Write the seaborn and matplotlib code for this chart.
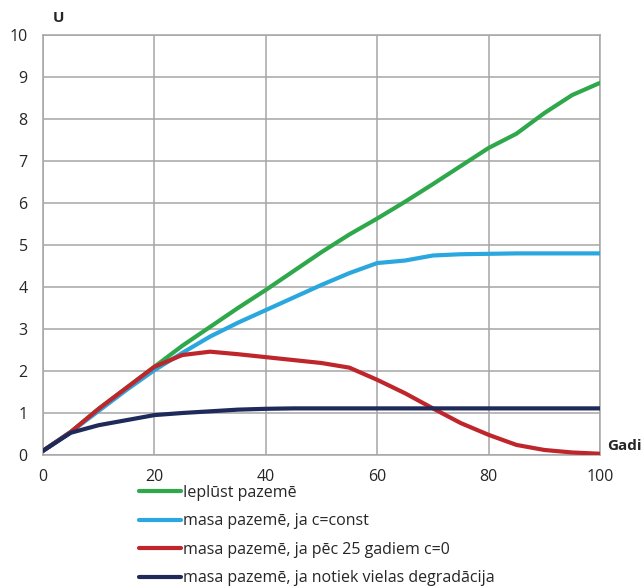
import pandas as pd
import numpy as np
import matplotlib.pyplot as plt
import seaborn as sns

sns.set_style("white")
plt.rcParams['font.family'] = ['Open Sans', 'DejaVu Sans']

# data
years = [0, 5, 10, 15, 20, 25, 30, 35, 40, 45, 50, 55, 60, 65, 70, 75, 80, 85, 90, 95, 100]
inflow = [0.1, 0.55, 1.1, 1.6, 2.1, 2.6, 3.05, 3.5, 3.93, 4.38, 4.83, 5.25, 5.63, 6.03, 6.45, 6.88, 7.31, 7.65, 8.14, 8.57, 8.86]
mass_const = [0.1, 0.55, 1.05, 1.55, 2.02, 2.43, 2.82, 3.15, 3.45, 3.75, 4.05, 4.33, 4.57, 4.63, 4.75, 4.78, 4.79, 4.8, 4.8, 4.8, 4.8]
mass_stop25 = [0.1, 0.55, 1.1, 1.6, 2.1, 2.38, 2.46, 2.4, 2.33, 2.26, 2.19, 2.08, 1.79, 1.47, 1.11, 0.76, 0.48, 0.24, 0.12, 0.06, 0.03]
mass_degr = [0.1, 0.53, 0.71, 0.83, 0.95, 1.0, 1.04, 1.08, 1.1, 1.11, 1.11, 1.11, 1.11, 1.11, 1.11, 1.11, 1.11, 1.11, 1.11, 1.11, 1.11]

labels = ['Ieplūst pazemē',
          'masa pazemē, ja c=const',
          'masa pazemē, ja pēc 25 gadiem c=0',
          'masa pazemē, ja notiek vielas degradācija']
colors = ['#2ea84a', '#2aa7df', '#bf262b', '#1e2a5a']

df = pd.DataFrame({'year': years})
for lab, vals in zip(labels, [inflow, mass_const, mass_stop25, mass_degr]):
    df[lab] = vals
long = df.melt(id_vars='year', var_name='series', value_name='U')

fig = plt.figure(figsize=(6.44, 5.88), dpi=100)
ax = fig.add_axes([43/644, 1 - 455/588, 557/644, 420/588])

sns.lineplot(data=long, x='year', y='U', hue='series', hue_order=labels,
             palette=colors, linewidth=3, ax=ax, legend=False, zorder=3)

ax.set_xlim(0, 100)
ax.set_ylim(0, 10)
ax.set_xticks(range(0, 101, 20))
ax.set_yticks(range(0, 11))
ax.grid(True, color='#a6a6a6', linewidth=1.1)
for s in ax.spines.values():
    s.set_color('#a6a6a6')
    s.set_linewidth(1.1)
ax.tick_params(axis='x', length=0, labelsize=11.5, pad=10)
ax.tick_params(axis='y', length=0, labelsize=11.5, pad=11)
ax.set_xlabel('')
ax.set_ylabel('')

fig.text(58/644, 1 - 18/588, 'U', fontsize=11, fontweight='bold', ha='center', va='center')
fig.text(607/644, 1 - 446/588, 'Gadi', fontsize=11, fontweight='bold', ha='left', va='center')

handles = [plt.Line2D([], [], color=c, linewidth=3) for c in colors]
fig.legend(handles, labels, loc='upper left', bbox_to_anchor=(139/644, 1 - 485/588),
           frameon=False, fontsize=11.5, handlelength=2.6, handletextpad=0.15,
           labelspacing=0.78, borderaxespad=0, borderpad=0)

fig.savefig('out.png', dpi=100)
